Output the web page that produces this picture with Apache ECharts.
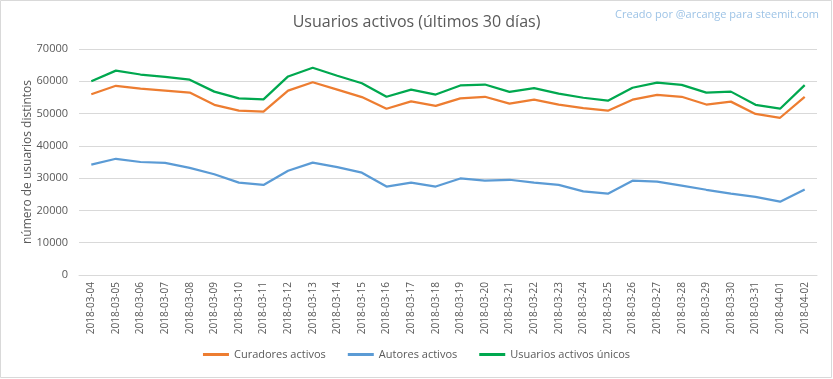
<!DOCTYPE html>
<html>
<head>
<meta charset="utf-8">
<script src="https://cdn.jsdelivr.net/npm/echarts@6/dist/echarts.min.js"></script>
<style>
html,body{margin:0;padding:0;background:#fff;}
#c{width:833px;height:379px;}
</style>
</head>
<body>
<div id="c"></div>
<script>
const categories = ["2018-03-04","2018-03-05","2018-03-06","2018-03-07","2018-03-08","2018-03-09","2018-03-10","2018-03-11","2018-03-12","2018-03-13","2018-03-14","2018-03-15","2018-03-16","2018-03-17","2018-03-18","2018-03-19","2018-03-20","2018-03-21","2018-03-22","2018-03-23","2018-03-24","2018-03-25","2018-03-26","2018-03-27","2018-03-28","2018-03-29","2018-03-30","2018-03-31","2018-04-01","2018-04-02"];
const curadores = [56000,58600,57700,57100,56500,52700,50900,50600,57100,59700,57400,55100,51500,53800,52400,54700,55200,53100,54300,52800,51700,50900,54300,55800,55200,52800,53700,49900,48700,55200];
const autores = [34200,36000,35000,34700,33200,31200,28600,27900,32300,34800,33400,31700,27400,28600,27400,29900,29200,29500,28600,27900,25900,25200,29200,28900,27700,26400,25200,24200,22700,26500];
const unicos = [60000,63300,62100,61400,60500,56800,54700,54400,61500,64200,61700,59400,55200,57400,55900,58700,59000,56700,57900,56200,54900,54000,58000,59600,58900,56500,56800,52700,51500,58800];
const yTicks = [0,10000,20000,30000,40000,50000,60000,70000];

const chart = echarts.init(document.getElementById('c'));
const txt = '#595959';
chart.setOption({
  animation:false,
  backgroundColor:'#fff',
  textStyle:{fontFamily:'"Open Sans", "Liberation Sans", sans-serif'},
  graphic:[{type:'rect',shape:{x:0.5,y:0.5,width:831,height:377},style:{fill:'none',stroke:'#d9d9d9',lineWidth:1}},
    {type:'text',right:14,top:9,style:{text:'Creado por @arcange para steemit.com',fill:'#9dc3e6',font:'11px "Open Sans", sans-serif'}}],
  title:{text:'Usuarios activos (últimos 30 días)',left:'center',top:9,
    textStyle:{color:txt,fontSize:16,fontWeight:'normal',fontFamily:'"Open Sans", sans-serif'}},
  legend:{bottom:14,left:'center',itemGap:22,itemWidth:26,itemHeight:3,icon:'rect',
    textStyle:{color:txt,fontSize:11},
    data:['Curadores activos','Autores activos','Usuarios activos únicos']},
  grid:{left:79,right:16,top:49,bottom:104},
  xAxis:{type:'category',data:categories,boundaryGap:true,
    axisLine:{lineStyle:{color:'#d9d9d9'}},axisTick:{show:false},
    axisLabel:{rotate:90,color:txt,fontSize:10,margin:7,interval:0}},
  yAxis:{type:'value',min:0,max:70000,interval:10000,
    name:'número de usuarios distintos',nameLocation:'middle',nameGap:45,nameMoveOverlap:false,
    nameTextStyle:{color:txt,fontSize:12},
    axisLine:{show:false},axisTick:{show:false},
    axisLabel:{color:txt,fontSize:11,margin:11,formatter:v=>yTicks.includes(v)?String(v):''},
    splitLine:{lineStyle:{color:'#d9d9d9'}}},
  series:[
    {name:'Curadores activos',type:'line',data:curadores,symbol:'none',lineStyle:{color:'#ED7D31',width:2.25},itemStyle:{color:'#ED7D31'}},
    {name:'Autores activos',type:'line',data:autores,symbol:'none',lineStyle:{color:'#5B9BD5',width:2.25},itemStyle:{color:'#5B9BD5'}},
    {name:'Usuarios activos únicos',type:'line',data:unicos,symbol:'none',lineStyle:{color:'#00A84F',width:2.25},itemStyle:{color:'#00A84F'}}
  ]
});
</script>
</body>
</html>
